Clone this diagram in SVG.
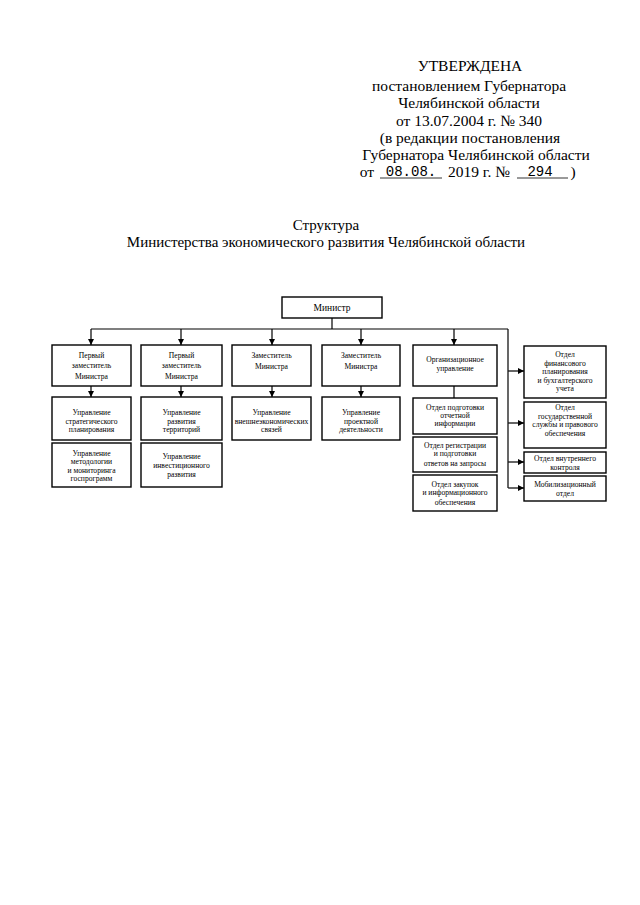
<svg xmlns="http://www.w3.org/2000/svg" width="640" height="905" viewBox="0 0 640 905">
<style>
.h{font-family:"Liberation Serif","Times New Roman",serif;font-size:15.5px;fill:#000;text-anchor:middle}
.m{font-family:"Liberation Mono","Courier New",monospace;font-size:14px;fill:#000;text-anchor:middle}
.t{font-family:"Liberation Serif","Times New Roman",serif;font-size:15px;fill:#000;text-anchor:middle}
.b{fill:#fff;stroke:#000;stroke-width:1.4}
.s{font-family:"Liberation Serif","Times New Roman",serif;font-size:7.6px;fill:#000;text-anchor:middle}
.n{font-family:"Liberation Serif","Times New Roman",serif;font-size:9.5px;fill:#000;text-anchor:middle}
.c{fill:none;stroke:#000;stroke-width:1.2}
</style>
<defs>
<marker id="a" viewBox="0 0 10 10" refX="10" refY="5" markerWidth="6" markerHeight="6" markerUnits="userSpaceOnUse" orient="auto">
<path d="M0,0 L10,5 L0,10 z" fill="#000"/>
</marker>
</defs>
<rect width="640" height="905" fill="#fff"/>
<g id="header">
<text class="h" x="470" y="71">УТВЕРЖДЕНА</text>
<text class="h" x="469" y="91">постановлением Губернатора</text>
<text class="h" x="469" y="108">Челябинской области</text>
<text class="h" x="469" y="126">от 13.07.2004 г. № 340</text>
<text class="h" x="470" y="143">(в редакции постановления</text>
<text class="h" x="476" y="160">Губернатора Челябинской области</text>
<text class="h" x="367" y="177">от</text>
<line x1="380" y1="178" x2="442" y2="178" stroke="#000" stroke-width="0.8"/>
<text class="m" x="411" y="176">08.08.</text>
<text class="h" x="479" y="177">2019 г. №</text>
<line x1="517" y1="178" x2="568" y2="178" stroke="#000" stroke-width="0.8"/>
<text class="m" x="540" y="176">294</text>
<text class="h" x="573" y="177">)</text>
</g>
<g id="title">
<text class="t" x="326" y="230">Структура</text>
<text class="t" x="326" y="247">Министерства экономического развития Челябинской области</text>
</g>
<g id="connectors">
<line class="c" x1="332" y1="318" x2="332" y2="329"/>
<line class="c" x1="91" y1="329" x2="508" y2="329"/>
<line class="c" x1="91" y1="329" x2="91" y2="345" marker-end="url(#a)"/>
<line class="c" x1="181" y1="329" x2="181" y2="345" marker-end="url(#a)"/>
<line class="c" x1="272" y1="329" x2="272" y2="345" marker-end="url(#a)"/>
<line class="c" x1="361" y1="329" x2="361" y2="345" marker-end="url(#a)"/>
<line class="c" x1="454" y1="329" x2="454" y2="345" marker-end="url(#a)"/>
<line class="c" x1="508" y1="329" x2="508" y2="488"/>
<line class="c" x1="508" y1="371" x2="524" y2="371" marker-end="url(#a)"/>
<line class="c" x1="508" y1="423" x2="524" y2="423" marker-end="url(#a)"/>
<line class="c" x1="508" y1="462" x2="524" y2="462" marker-end="url(#a)"/>
<line class="c" x1="508" y1="488" x2="524" y2="488" marker-end="url(#a)"/>
<line class="c" x1="91" y1="386" x2="91" y2="397" marker-end="url(#a)"/>
<line class="c" x1="181" y1="386" x2="181" y2="397" marker-end="url(#a)"/>
<line class="c" x1="272" y1="386" x2="272" y2="397" marker-end="url(#a)"/>
<line class="c" x1="361" y1="386" x2="361" y2="397" marker-end="url(#a)"/>
<line class="c" x1="454" y1="386" x2="454" y2="398"/>
</g>
<g id="minister"><rect class="b" x="282" y="297" width="100" height="21"/><text class="n" x="332" y="311">Министр</text></g>
<g id="dep1"><rect class="b" x="52" y="345" width="79" height="41"/><text class="s" x="91.5" y="358">Первый</text><text class="s" x="91.5" y="368">заместитель</text><text class="s" x="91.5" y="379">Министра</text></g>
<g id="dep2"><rect class="b" x="141" y="345" width="81" height="41"/><text class="s" x="181.5" y="358">Первый</text><text class="s" x="181.5" y="368">заместитель</text><text class="s" x="181.5" y="379">Министра</text></g>
<g id="dep3"><rect class="b" x="232" y="345" width="79" height="41"/><text class="s" x="271.5" y="358">Заместитель</text><text class="s" x="271.5" y="369">Министра</text></g>
<g id="dep4"><rect class="b" x="322" y="345" width="78" height="41"/><text class="s" x="361" y="358">Заместитель</text><text class="s" x="361" y="369">Министра</text></g>
<g id="org"><rect class="b" x="413" y="345" width="84" height="41"/><text class="s" x="455" y="362">Организационное</text><text class="s" x="455" y="371">управление</text></g>
<g id="fin"><rect class="b" x="524" y="346" width="82" height="52"/><text class="s" x="565" y="357">Отдел</text><text class="s" x="565" y="365.5">финансового</text><text class="s" x="565" y="374">планирования</text><text class="s" x="565" y="382.5">и бухгалтерского</text><text class="s" x="565" y="391">учета</text></g>
<g id="gos"><rect class="b" x="524" y="402" width="82" height="46"/><text class="s" x="565" y="410">Отдел</text><text class="s" x="565" y="419">государственной</text><text class="s" x="565" y="427">службы и правового</text><text class="s" x="565" y="435.5">обеспечения</text></g>
<g id="control"><rect class="b" x="524" y="452" width="82" height="21"/><text class="s" x="565" y="461">Отдел внутреннего</text><text class="s" x="565" y="469.5">контроля</text></g>
<g id="mob"><rect class="b" x="524" y="476" width="82" height="25"/><text class="s" x="565" y="486.5">Мобилизационный</text><text class="s" x="565" y="496">отдел</text></g>
<g id="strat"><rect class="b" x="52" y="397" width="79" height="43"/><text class="s" x="91.5" y="415">Управление</text><text class="s" x="91.5" y="423.5">стратегического</text><text class="s" x="91.5" y="432">планирования</text></g>
<g id="method"><rect class="b" x="52" y="443" width="79" height="44"/><text class="s" x="91.5" y="455.5">Управление</text><text class="s" x="91.5" y="464">методологии</text><text class="s" x="91.5" y="472.5">и мониторинга</text><text class="s" x="91.5" y="481">госпрограмм</text></g>
<g id="terr"><rect class="b" x="141" y="397" width="81" height="43"/><text class="s" x="181.5" y="415">Управление</text><text class="s" x="181.5" y="423.5">развития</text><text class="s" x="181.5" y="432">территорий</text></g>
<g id="invest"><rect class="b" x="141" y="443" width="81" height="44"/><text class="s" x="181.5" y="458.5">Управление</text><text class="s" x="181.5" y="467.5">инвестиционного</text><text class="s" x="181.5" y="476.5">развития</text></g>
<g id="vnesh"><rect class="b" x="232" y="397" width="79" height="43"/><text class="s" x="271.5" y="415">Управление</text><text class="s" x="271.5" y="423.5">внешнеэкономических</text><text class="s" x="271.5" y="432">связей</text></g>
<g id="proj"><rect class="b" x="322" y="397" width="78" height="43"/><text class="s" x="361" y="415">Управление</text><text class="s" x="361" y="423.5">проектной</text><text class="s" x="361" y="432">деятельности</text></g>
<g id="otch"><rect class="b" x="413" y="398" width="84" height="36"/><text class="s" x="455" y="409.5">Отдел подготовки</text><text class="s" x="455" y="417.5">отчетной</text><text class="s" x="455" y="426">информации</text></g>
<g id="reg"><rect class="b" x="413" y="437" width="84" height="35"/><text class="s" x="455" y="447.5">Отдел регистрации</text><text class="s" x="455" y="456">и подготовки</text><text class="s" x="455" y="466">ответов на запросы</text></g>
<g id="zak"><rect class="b" x="413" y="475" width="84" height="36"/><text class="s" x="455" y="486.5">Отдел закупок</text><text class="s" x="455" y="495">и информационного</text><text class="s" x="455" y="504.5">обеспечения</text></g>
</svg>
